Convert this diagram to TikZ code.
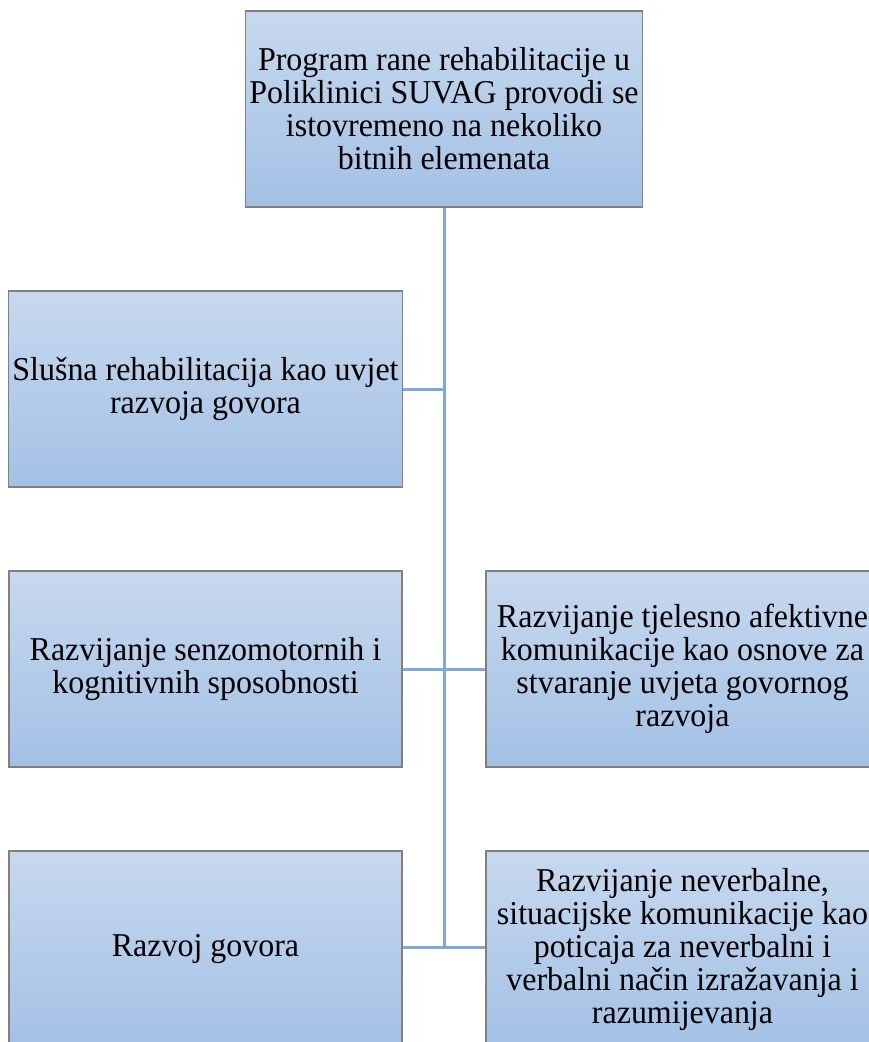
\documentclass[tikz,border=0pt]{standalone}
\usepackage{fontspec}
\setmainfont{Liberation Serif}[FakeStretch=0.96]
\definecolor{boxtop}{RGB}{199,216,238}
\definecolor{boxbot}{RGB}{163,193,229}
\definecolor{boxline}{RGB}{128,128,128}
\definecolor{conn}{RGB}{127,167,217}
\tikzset{
  stage/.style={draw=boxline, line width=1.3pt, top color=boxtop, bottom color=boxbot,
    minimum width=393pt, minimum height=196pt, inner sep=4pt, align=center,
    font=\fontsize{33.3}{33}\selectfont, text=black},
  link/.style={draw=conn, line width=3pt}
}
\begin{document}
\begin{tikzpicture}[x=1pt,y=-1pt]
\useasboundingbox (0,0) rectangle (869,1042);
\begin{scope}
\clip (0,0) rectangle (869,1042);
\node[stage] (top) at (444,109) {Program rane rehabilitacije u\\Poliklinici SUVAG provodi se\\istovremeno na nekoliko\\bitnih elemenata};
\node[stage] (l1) at (205.5,389) {Slušna rehabilitacija kao uvjet\\razvoja govora};
\node[stage] (l2) at (205.5,669) {Razvijanje senzomotornih i\\kognitivnih sposobnosti};
\node[stage] (r2) at (682.5,669) {Razvijanje tjelesno afektivne\\komunikacije kao osnove za\\stvaranje uvjeta govornog\\razvoja};
\node[stage] (l3) at (205.5,949) {Razvoj govora};
\node[stage] (r3) at (682.5,949) {Razvijanje neverbalne,\\situacijske komunikacije kao\\poticaja za neverbalni i\\verbalni način izražavanja i\\razumijevanja};
\coordinate (bend) at (443,947);
\draw[link] (top.south) -- (top.south |- bend);
\draw[link] (l1.east) -- (l1.east -| top.south);
\draw[link] (l2.east) -- (r2.west);
\draw[link] (l3.east |- bend) -- (r3.west |- bend);
\end{scope}
\end{tikzpicture}
\end{document}
